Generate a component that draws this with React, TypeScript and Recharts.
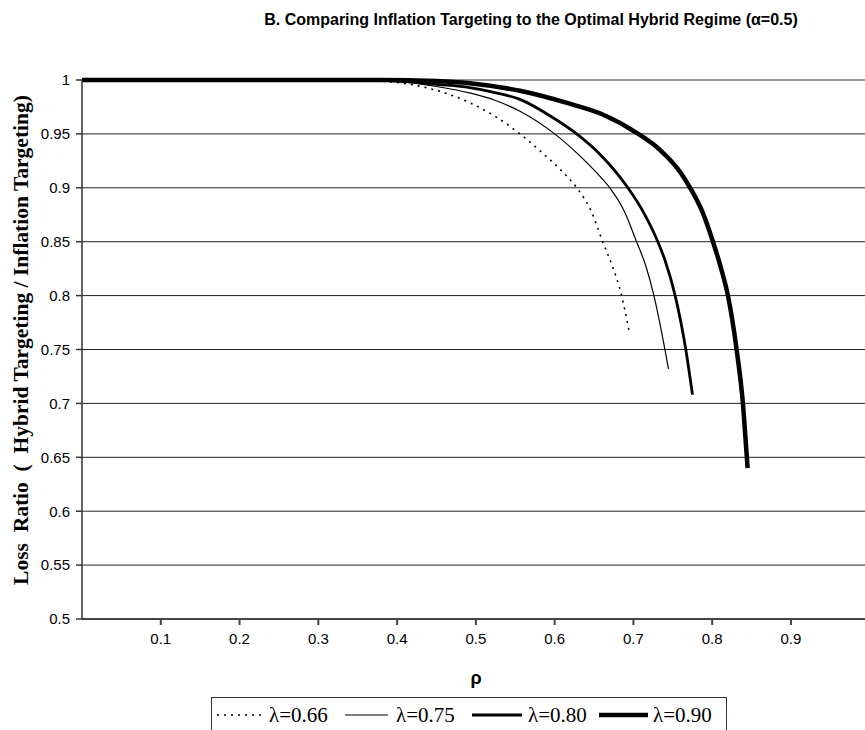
import React from 'react';
import { LineChart, Line, XAxis, YAxis, CartesianGrid, ReferenceLine } from 'recharts';

const title = 'B. Comparing Inflation Targeting to the Optimal Hybrid Regime (\u03b1=0.5)';
const yTitle = 'Loss  Ratio  (  Hybrid Targeting / Inflation Targeting)';
const xTitle = '\u03c1';

const xTicks = [0.1, 0.2, 0.3, 0.4, 0.5, 0.6, 0.7, 0.8, 0.9];
const yTicks = [0.5, 0.55, 0.6, 0.65, 0.7, 0.75, 0.8, 0.85, 0.9, 0.95, 1];

const seriesNames = ['\u03bb=0.66', '\u03bb=0.75', '\u03bb=0.80', '\u03bb=0.90'];

const rho066 = [0, 0.1, 0.2, 0.3, 0.35, 0.38, 0.442, 0.492, 0.525, 0.556, 0.585, 0.607, 0.628, 0.646, 0.661, 0.673, 0.685, 0.6945];
const val066 = [1, 1, 1, 1, 1, 0.999, 0.992, 0.979, 0.966, 0.95, 0.932, 0.917, 0.9, 0.879, 0.85, 0.828, 0.8, 0.767];

const rho075 = [0, 0.1, 0.2, 0.3, 0.36, 0.41, 0.45, 0.492, 0.525, 0.556, 0.6, 0.63, 0.657, 0.67, 0.688, 0.704, 0.716, 0.726, 0.74, 0.7445];
const val075 = [1, 1, 1, 1, 1, 0.998, 0.994, 0.988, 0.981, 0.971, 0.95, 0.931, 0.911, 0.9, 0.879, 0.85, 0.827, 0.8, 0.75, 0.732];

const rho080 = [0, 0.1, 0.2, 0.3, 0.37, 0.42, 0.45, 0.492, 0.52, 0.556, 0.598, 0.628, 0.659, 0.693, 0.713, 0.731, 0.74, 0.753, 0.7665, 0.775];
const val080 = [1, 1, 1, 1, 1, 0.998, 0.996, 0.993, 0.989, 0.982, 0.965, 0.95, 0.93, 0.9, 0.877, 0.85, 0.833, 0.8, 0.75, 0.708];

const rho090 = [0, 0.1, 0.2, 0.3, 0.38, 0.45, 0.492, 0.556, 0.619, 0.661, 0.704, 0.734, 0.76, 0.772, 0.788, 0.801, 0.811, 0.82, 0.831, 0.839, 0.844, 0.845];
const val090 = [1, 1, 1, 1, 1, 0.999, 0.997, 0.99, 0.978, 0.968, 0.951, 0.935, 0.914, 0.9, 0.877, 0.85, 0.826, 0.8, 0.75, 0.7, 0.65, 0.64];

const toData = (xs: number[], ys: number[]) => xs.map((x, i) => ({ rho: x, v: ys[i] }));

const series = [
  { name: seriesNames[0], data: toData(rho066, val066), width: 1.6, dash: '2 5' },
  { name: seriesNames[1], data: toData(rho075, val075), width: 1.2, dash: undefined },
  { name: seriesNames[2], data: toData(rho080, val080), width: 2.8, dash: undefined },
  { name: seriesNames[3], data: toData(rho090, val090), width: 4.5, dash: undefined },
];

const legendX = [
  { lx1: 6, lx2: 52, tx: 58 },
  { lx1: 134, lx2: 177, tx: 185 },
  { lx1: 261, lx2: 311, tx: 317 },
  { lx1: 388, lx2: 437, tx: 442 },
];

const LegendBox = () => (
  <svg width={516} height={40} style={{ position: 'absolute', left: 211, top: 697, display: 'block' }}>
    <rect x={0.5} y={0.5} width={515} height={45} fill="#fff" stroke="#333" strokeWidth={1} />
    {series.map((s, i) => (
      <g key={s.name}>
        <line x1={legendX[i].lx1} x2={legendX[i].lx2} y1={18} y2={18} stroke="#000" strokeWidth={s.width} strokeDasharray={s.dash} />
        <text x={legendX[i].tx} y={25} fontFamily="'Liberation Serif', 'Times New Roman', serif" fontSize={21} fill="#000">{s.name}</text>
      </g>
    ))}
  </svg>
);

const fmt = (v: number) => String(+v.toFixed(2));

export default function App() {
  return (
    <div style={{ position: 'absolute', left: 0, top: 0, width: 865, height: 730, background: '#fff', overflow: 'hidden' }}>
      <LineChart width={865} height={730} margin={{ top: 80, right: 0, bottom: 81, left: 0 }}>
        <CartesianGrid horizontal={true} vertical={false} stroke="#222" strokeWidth={1} />
        <ReferenceLine y={1} stroke="#999" strokeWidth={1.5} />
        <XAxis
          type="number"
          dataKey="rho"
          domain={[0, 0.994]}
          ticks={xTicks}
          allowDataOverflow
          tickFormatter={fmt}
          stroke="#444"
          strokeWidth={2}
          tickSize={6}
          tickMargin={8}
          height={30}
          tick={{ fill: '#000', fontSize: 15, fontFamily: "'Liberation Sans', Arial, sans-serif" }}
        />
        <YAxis
          type="number"
          dataKey="v"
          domain={[0.5, 1]}
          ticks={yTicks}
          width={82}
          tickFormatter={fmt}
          stroke="#333"
          strokeWidth={1.5}
          tickSize={6}
          tickMargin={6}
          tick={{ fill: '#000', fontSize: 15, fontFamily: "'Liberation Sans', Arial, sans-serif" }}
        />
        {series.map((s) => (
          <Line
            key={s.name}
            name={s.name}
            data={s.data}
            dataKey="v"
            type="monotone"
            stroke="#000"
            strokeWidth={s.width}
            strokeDasharray={s.dash}
            dot={false}
            activeDot={false}
            isAnimationActive={false}
          />
        ))}
        <text x={531} y={25} textAnchor="middle" fontFamily="'Liberation Sans', Arial, sans-serif" fontWeight="bold" fontSize={16} fill="#000">{title}</text>
        <text x={476} y={684} textAnchor="middle" fontFamily="'Liberation Sans', Arial, sans-serif" fontWeight="bold" fontSize={18} fill="#000">{xTitle}</text>
        <text
          x={0}
          y={0}
          transform="translate(28, 340) rotate(-90)"
          textAnchor="middle"
          fontFamily="'Liberation Serif', 'Times New Roman', serif"
          fontWeight="bold"
          fontSize={21.5}
          fill="#000"
          style={{ whiteSpace: 'pre' }}
          xmlSpace="preserve"
        >{yTitle}</text>
      </LineChart>
      <LegendBox />
    </div>
  );
}
